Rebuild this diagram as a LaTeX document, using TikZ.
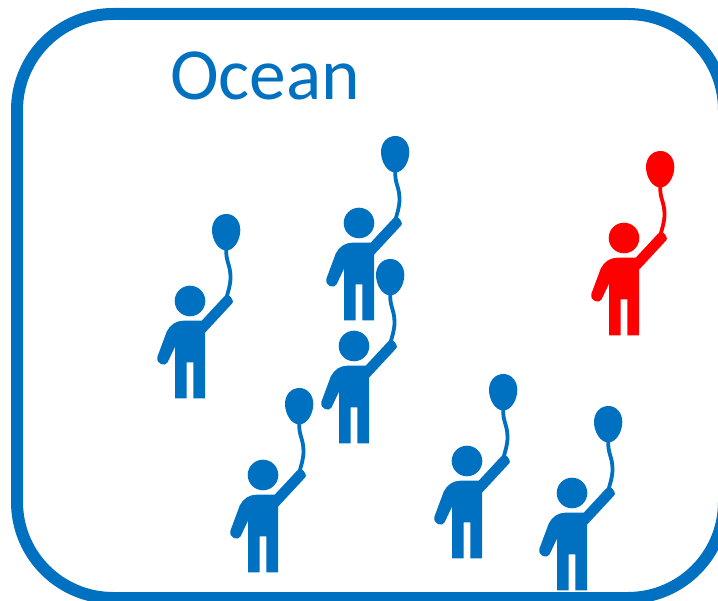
\documentclass[tikz,border=0pt]{standalone}
\usepackage{fontspec}
\setmainfont{Carlito}
\definecolor{oceanblue}{RGB}{0,112,192}
\tikzset{
  oceanframe/.style={draw=oceanblue,line width=12pt,fill=white,rounded corners=96pt},
  oceanlabel/.style={text=oceanblue,font=\fontsize{73.5}{73.5}\selectfont,inner sep=0pt,anchor=base west},
  pics/person/.style={code={
    \fill[#1] (0,0) circle[radius=15.3];
    \fill[#1] (-6.7,19.7) -- (11.7,19.7) -- (34,-4.3)
      .. controls (37,-7) and (40,-6) .. (42,-2)
      .. controls (43.5,0) and (43,1.5) .. (42,2.6)
      -- (15,31.7) -- (15,97.3) -- (3.3,97.3) -- (3.3,61.3) -- (-3.3,61.3)
      -- (-3.3,97.3) -- (-15,97.3) -- (-15,45.7) -- (-22.5,61.5)
      .. controls (-25,66) and (-34,63) .. (-32.7,56)
      -- (-23.3,30.7) .. controls (-20,24) and (-14,19.7) .. (-6.7,19.7) -- cycle;
    \draw[#1,line width=3.8pt] (36.3,-52) .. controls (35.5,-40) and (40.5,-36) .. (40.5,-24)
      .. controls (40.5,-15) and (38,-10) .. (36.5,-3);
    \fill[#1] (36.3,-87) .. controls (44.5,-87) and (50.3,-80) .. (50.3,-71)
      .. controls (50.3,-61) and (44,-50.5) .. (36.3,-50.5)
      .. controls (28.5,-50.5) and (22,-61) .. (22,-71)
      .. controls (22,-80) and (28,-87) .. (36.3,-87) -- cycle;
  }}
}
\begin{document}
\begin{tikzpicture}[x=1pt,y=-1pt]
  \useasboundingbox (0,0) rectangle (718,601);
  \begin{scope}
    \clip (0,0) rectangle (718,601);
    \draw[oceanframe] (17,14) rectangle (724,598);
  \end{scope}
  \node[oceanlabel] (title) at (170,100) {Ocean};
  \pic (p1) at (190,301) {person=oceanblue};
  \pic (p2) at (359,223) {person=oceanblue};
  \pic (p3) at (354,346) {person=oceanblue};
  \pic (p4) at (263,475) {person=oceanblue};
  \pic (p5) at (467,461) {person=oceanblue};
  \pic (p6) at (572,493) {person=oceanblue};
  \pic (p7) at (624,238) {person=red};
\end{tikzpicture}
\end{document}
